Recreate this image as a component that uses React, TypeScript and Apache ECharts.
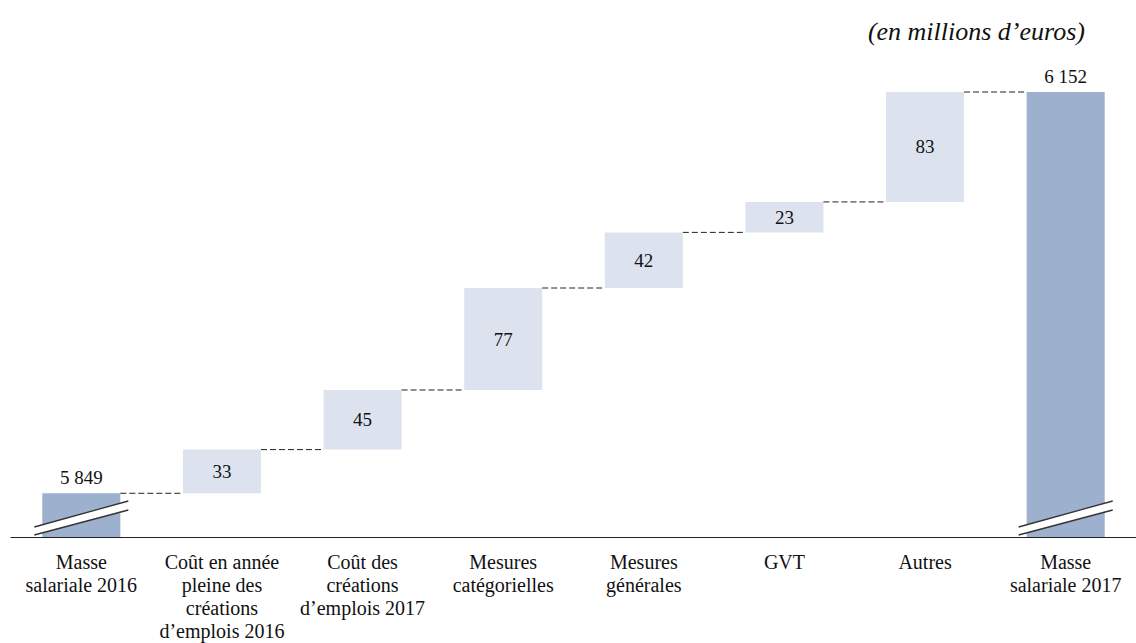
import React, { useEffect, useRef } from "react";
import * as echarts from "echarts";

const categories = [
  "Masse\nsalariale 2016",
  "Coût en année\npleine des\ncréations\nd’emplois 2016",
  "Coût des\ncréations\nd’emplois 2017",
  "Mesures\ncatégorielles",
  "Mesures\ngénérales",
  "GVT",
  "Autres",
  "Masse\nsalariale 2017",
];
const startTotal = 5849;
const increments = [33, 45, 77, 42, 23, 83];
const endTotal = 6152;
const unitLabel = "(en millions d’euros)";
const axisMin = 5816;
const axisMax = 6152;

const TOTAL_COLOR = "#9DB0CE";
const STEP_COLOR = "#DDE3EE";
const FONT = "Liberation Serif";
const BAR_FRAC = 0.555;

function fmt(v: number) {
  return String(v).replace(/\B(?=(\d{3})+(?!\d))/g, " ");
}

export default function App() {
  const ref = useRef<HTMLDivElement>(null);
  useEffect(() => {
    document.body.style.margin = "0";
    if (!ref.current) return;
    const chart = echarts.init(ref.current, undefined, { renderer: "svg" });

    const n = categories.length;
    const bases: number[] = [0];
    const levels: number[] = [startTotal];
    let cum = startTotal;
    increments.forEach((d) => {
      bases.push(cum);
      cum += d;
      levels.push(cum);
    });
    bases.push(0);

    const valueData = [startTotal, ...increments, endTotal].map((v, i) => {
      const isTotal = i === 0 || i === n - 1;
      return {
        value: v,
        itemStyle: { color: isTotal ? TOTAL_COLOR : STEP_COLOR },
        label: isTotal
          ? { show: true, position: "top", distance: 6, formatter: fmt(v) }
          : { show: true, position: "inside", formatter: fmt(v) },
      };
    });

    const connectorData = levels.map((lv, i) => [i, lv]);
    const breakData = [
      [0, axisMin],
      [n - 1, axisMin],
    ];

    chart.setOption({
      animation: false,
      title: {
        text: unitLabel,
        right: 46,
        top: 13,
        textStyle: {
          fontFamily: FONT,
          fontStyle: "italic",
          fontWeight: "normal",
          fontSize: 26,
          color: "#111",
        },
      },
      grid: { left: 11, right: 0, top: 92, bottom: 106, containLabel: false },
      xAxis: {
        type: "category",
        data: categories,
        axisLine: { show: true, lineStyle: { color: "#222", width: 1.2 } },
        axisTick: { show: false },
        axisLabel: {
          interval: 0,
          margin: 13,
          fontFamily: FONT,
          fontSize: 20,
          lineHeight: 23,
          color: "#111",
          align: "center",
        },
      },
      yAxis: {
        type: "value",
        min: axisMin,
        max: axisMax,
        show: false,
        splitLine: { show: false },
      },
      series: [
        {
          type: "bar",
          stack: "wf",
          barWidth: BAR_FRAC * 100 + "%",
          itemStyle: { color: "transparent" },
          data: bases,
          silent: true,
        },
        {
          type: "bar",
          stack: "wf",
          barWidth: BAR_FRAC * 100 + "%",
          data: valueData,
          label: {
            fontFamily: FONT,
            fontSize: 19,
            color: "#111",
          },
        },
        {
          type: "custom",
          data: connectorData.slice(0, n - 1),
          encode: { x: 0, y: 1 },
          z: 5,
          renderItem: (params: any, api: any) => {
            const i = api.value(0);
            const lv = api.value(1);
            const p = api.coord([i, lv]);
            const w = api.size([1, 0])[0];
            const half = (w * BAR_FRAC) / 2;
            return {
              type: "line",
              shape: { x1: p[0] + half, y1: p[1], x2: p[0] + w - half, y2: p[1] },
              style: { stroke: "#222", lineWidth: 1, lineDash: [6, 3] },
            };
          },
        },
        {
          type: "custom",
          data: breakData,
          encode: { x: 0, y: 1 },
          z: 6,
          renderItem: (params: any, api: any) => {
            const i = api.value(0);
            const p = api.coord([i, api.value(1)]);
            const w = api.size([1, 0])[0];
            const half = (w * BAR_FRAC) / 2;
            const xl = p[0] - half - 8;
            const xr = p[0] + half + 8;
            const b = p[1];
            return {
              type: "group",
              children: [
                {
                  type: "polygon",
                  shape: {
                    points: [
                      [xl, b - 10],
                      [xr, b - 36],
                      [xr, b - 27],
                      [xl, b - 2],
                    ],
                  },
                  style: { fill: "#fff" },
                },
                {
                  type: "line",
                  shape: { x1: xl, y1: b - 10, x2: xr, y2: b - 36 },
                  style: { stroke: "#333", lineWidth: 1.3 },
                },
                {
                  type: "line",
                  shape: { x1: xl, y1: b - 2, x2: xr, y2: b - 27 },
                  style: { stroke: "#333", lineWidth: 1.3 },
                },
              ],
            };
          },
        },
      ],
    });
    return () => chart.dispose();
  }, []);
  return <div ref={ref} style={{ width: 1136, height: 643 }} />;
}
